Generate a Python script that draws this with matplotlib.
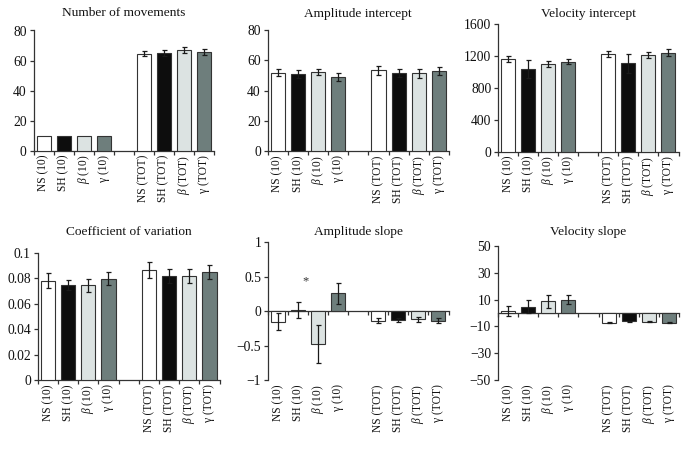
import matplotlib
matplotlib.use("Agg")
import matplotlib.pyplot as plt
import numpy as np

plt.rcParams['font.family'] = ['Liberation Serif', 'DejaVu Serif']
plt.rcParams['mathtext.fontset'] = 'custom'
plt.rcParams['mathtext.rm'] = 'Liberation Serif'
plt.rcParams['mathtext.it'] = 'Liberation Serif:italic'

# ---------------- data ----------------
categories = ["NS (10)", "SH (10)", "$\\beta$ (10)", "\u03b3 (10)",
              "NS (TOT)", "SH (TOT)", "$\\beta$ (TOT)", "\u03b3 (TOT)"]
positions = [0, 1, 2, 3, 5, 6, 7, 8]
bar_colors = ["#ffffff", "#0d0d0d", "#dce3e2", "#6e7e7c",
              "#ffffff", "#0d0d0d", "#dce3e2", "#6e7e7c"]

titles = ["Number of movements", "Amplitude intercept", "Velocity intercept",
          "Coefficient of variation", "Amplitude slope", "Velocity slope"]

movements_mean = [10, 10, 10, 10, 64.5, 64.9, 66.9, 65.8]
movements_err = [None, None, None, None, 1.8, 2.0, 2.0, 2.0]

amp_int_mean = [52.0, 51.0, 52.3, 49.2, 53.4, 51.6, 51.4, 52.9]
amp_int_err = [2.5, 2.4, 2.2, 2.7, 2.7, 2.7, 2.7, 2.7]

vel_int_mean = [1158, 1029, 1096, 1125, 1225, 1104, 1208, 1237]
vel_int_err = [33, 113, 37, 33, 37, 121, 37, 42]

cv_mean = [0.0780, 0.0746, 0.0743, 0.0796, 0.0864, 0.0819, 0.0819, 0.0846]
cv_err = [0.0060, 0.0042, 0.0050, 0.0050, 0.0065, 0.0055, 0.0055, 0.0055]

amp_slope_mean = [-0.157, 0.02, -0.48, 0.257, -0.136, -0.126, -0.121, -0.136]
amp_slope_err = [0.124, 0.117, 0.277, 0.148, 0.040, 0.030, 0.040, 0.035]

vel_slope_mean = [1.2, 4.7, 8.7, 10.0, -7.2, -6.2, -6.5, -7.2]
vel_slope_err = [3.8, 4.7, 5.0, 3.6, 0.5, 0.5, 0.5, 0.5]

yticks_list = [
    [0, 20, 40, 60, 80],
    [0, 20, 40, 60, 80],
    [0, 400, 800, 1200, 1600],
    [0, 0.02, 0.04, 0.06, 0.08, 0.1],
    [-1, -0.5, 0, 0.5, 1],
    [-50, -30, -10, 10, 30, 50],
]
ytick_labels_list = [
    ["0", "20", "40", "60", "80"],
    ["0", "20", "40", "60", "80"],
    ["0", "400", "800", "1200", "1600"],
    ["0", "0.02", "0.04", "0.06", "0.08", "0.1"],
    ["\u22121", "\u22120.5", "0", "0.5", "1"],
    ["\u221250", "\u221230", "\u221210", "10", "30", "50"],
]
ylims = [(0, 80), (0, 80), (0, 1600), (0, 0.1), (-1, 1), (-50, 50)]

star_text = "*"
star_pos = (1.35, 0.43)

# ---------------- layout (pixels) ----------------
W, H = 687, 450
# left, right, top(ymax), bottom(ymin)
boxes = [
    (33.5, 213.5, 30.5, 150.7),
    (267.7, 449.0, 30.3, 151.0),
    (498.3, 678.5, 23.7, 151.7),
    (37.7, 219.6, 252.7, 380.0),
    (268.2, 448.5, 242.3, 380.0),
    (498.0, 679.0, 246.0, 380.0),
]
title_y = [13.5, 13.5, 13.5, 232.0, 232.0, 232.0]

means = [movements_mean, amp_int_mean, vel_int_mean, cv_mean, amp_slope_mean, vel_slope_mean]
errs = [movements_err, amp_int_err, vel_int_err, cv_err, amp_slope_err, vel_slope_err]

fig = plt.figure(figsize=(W / 100, H / 100), dpi=100)
spine_col = "#333333"
boundaries = np.arange(-0.5, 9.0, 1.0)

for i in range(6):
    l, r, t, b = boxes[i]
    ax = fig.add_axes([l / W, 1 - b / H, (r - l) / W, (b - t) / H])
    m = means[i]
    e = errs[i]
    ax.bar(positions, m, width=0.7, color=bar_colors, edgecolor="#333333",
           linewidth=0.8, zorder=2)
    ex = [p for p, v in zip(positions, e) if v is not None]
    ey = [mm for mm, v in zip(m, e) if v is not None]
    ee = [v for v in e if v is not None]
    if ex:
        ax.errorbar(ex, ey, yerr=ee, fmt="none", ecolor="#1a1a1a",
                    elinewidth=0.9, capsize=1.8, capthick=0.9, zorder=3)
    ax.set_xlim(-0.5, 8.5)
    ax.set_ylim(*ylims[i])
    ax.set_yticks(yticks_list[i])
    ax.set_yticklabels(ytick_labels_list[i])
    ax.set_xticks(positions)
    ax.set_xticklabels(categories, rotation=90)
    ax.tick_params(axis="x", length=0, labelsize=8.3, pad=3, colors="#111111")
    ax.tick_params(axis="y", direction="out", length=3, width=0.9,
                   labelsize=9.8, pad=2, colors=spine_col, labelcolor="#111111")
    for s in ["top", "right", "bottom"]:
        ax.spines[s].set_visible(False)
    ax.spines["left"].set_color(spine_col)
    ax.spines["left"].set_linewidth(0.9)
    ymin, ymax = ylims[i]
    zero_frac = (0 - ymin) / (ymax - ymin)
    sec = ax.secondary_xaxis(zero_frac)
    sec.set_alignment("bottom")
    sec.set_xticks(boundaries)
    sec.tick_params(direction="out", length=3, width=0.9, labelbottom=False,
                    labeltop=False, colors=spine_col)
    for s in sec.spines.values():
        s.set_color(spine_col)
        s.set_linewidth(0.9)
    sec.spines["top"].set_visible(False)
    sec.spines["bottom"].set_visible(True)
    fig.text((l + r) / 2 / W, 1 - title_y[i] / H, titles[i], ha="center",
             va="center", fontsize=9.6, color="#111111")
    if i == 4:
        ax.text(star_pos[0], star_pos[1], star_text, ha="center", va="center",
                fontsize=9, color="#333333")

fig.savefig("out.png", dpi=100)
